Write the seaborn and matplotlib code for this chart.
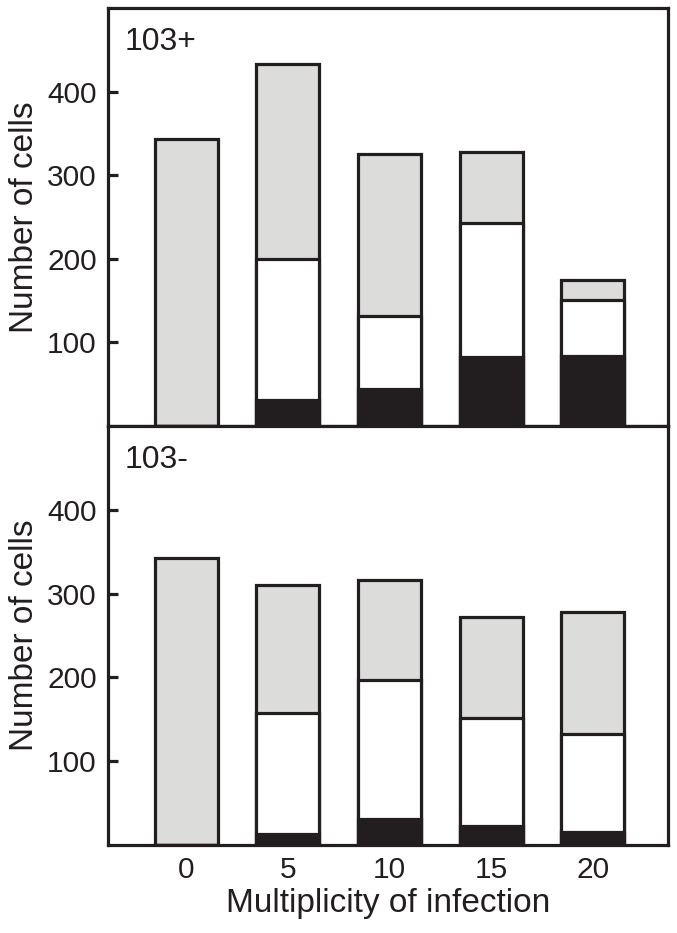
import numpy as np
import pandas as pd
import matplotlib
matplotlib.use("Agg")
import matplotlib.pyplot as plt
import seaborn as sns

# ---- data (segment heights) ----
moi = ["0", "5", "10", "15", "20"]
top_black = [0, 31, 44, 83, 84]
top_white = [0, 169, 88, 160, 67]
top_gray = [343, 233, 193, 85, 24]
bot_black = [0, 13, 31, 23, 16]
bot_white = [0, 145, 166, 129, 117]
bot_gray = [343, 152, 119, 120, 145]
yticks = [100, 200, 300, 400]
panel_labels = ["103+", "103-"]

sns.set_style("ticks")
plt.rcParams["font.family"] = ["Liberation Sans", "DejaVu Sans"]

EDGE = "#221e1f"
GRAY = "#dcdcda"
LW = 2.3

fig = plt.figure(figsize=(6.77, 9.33), dpi=100)
ax_top = fig.add_axes([0.1595, 0.5434, 0.8272, 0.4480])
ax_bot = fig.add_axes([0.1595, 0.0943, 0.8272, 0.4491])


def draw(ax, black, white, gray, label):
    black = np.array(black)
    white = np.array(white)
    gray = np.array(gray)
    df = pd.DataFrame({
        "moi": moi,
        "total": black + white + gray,
        "cum_white": black + white,
        "black": black,
    })
    for col, fc, z in [("total", GRAY, 2), ("cum_white", "white", 3), ("black", EDGE, 4)]:
        sns.barplot(data=df, x="moi", y=col, order=moi, color=fc, saturation=1,
                    edgecolor=EDGE, linewidth=LW, width=0.62, ax=ax, zorder=z,
                    errorbar=None)
    for p in ax.patches:
        p.set_joinstyle("miter")
    ax.set_xlim(-0.77, 4.74)
    ax.set_ylim(0, 500)
    ax.set_yticks(yticks)
    ax.set_yticklabels([str(t) for t in yticks])
    ax.tick_params(axis="y", direction="in", length=7, width=LW, pad=8,
                   labelsize=21.5, colors=EDGE)
    ax.tick_params(axis="x", length=0, pad=8, labelsize=21.5, colors=EDGE)
    for s in ax.spines.values():
        s.set_linewidth(LW)
        s.set_color(EDGE)
        s.set_visible(True)
    ax.set_ylabel("Number of cells", fontsize=24, color=EDGE, labelpad=5)
    ax.text(0.029, 0.919, label, transform=ax.transAxes, fontsize=23,
            ha="left", va="center", color=EDGE)


draw(ax_top, top_black, top_white, top_gray, panel_labels[0])
draw(ax_bot, bot_black, bot_white, bot_gray, panel_labels[1])

ax_top.set_xticklabels([])
ax_top.set_xlabel("")
ax_bot.set_xlabel("Multiplicity of infection", fontsize=24, color=EDGE, labelpad=3)

fig.savefig("out.png", dpi=100)
